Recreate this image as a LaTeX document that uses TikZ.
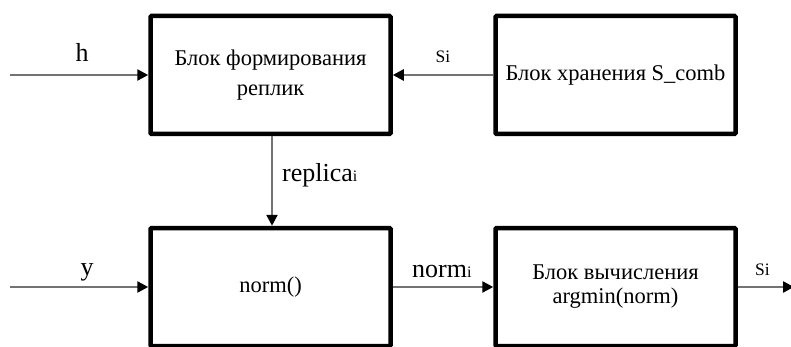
\documentclass[tikz,border=0pt]{standalone}
\usepackage{fontspec}
\setmainfont{Liberation Serif}
\usetikzlibrary{arrows.meta}
\begin{document}
\begin{tikzpicture}[x=1pt,y=-1pt,
  blk/.style={draw=black,line width=4.5pt,rounded corners=1pt,fill=white,
    minimum width=240pt,minimum height=118pt,inner sep=0pt,align=center,
    font=\fontsize{22.5}{30}\selectfont},
  conn/.style={draw=black!55,line width=2.4pt,
    -{Triangle[length=11pt,width=11pt,color=black]}},
  lbl/.style={font=\fontsize{26}{26}\selectfont,inner sep=0pt},
  sml/.style={font=\fontsize{17.5}{17.5}\selectfont,inner sep=0pt}]
\useasboundingbox[fill=white] (0,0) rectangle (791,347);
% blocks
\node[blk] (form) at (270.5,75) {Блок формирования\\реплик};
\node[blk] (store) at (615.5,75) {Блок хранения S\_comb};
\node[blk] (norm) at (270.5,287) {norm()};
\node[blk,font=\fontsize{22.5}{24}\selectfont] (argmin) at (615.5,287) {Блок вычисления\\argmin(norm)};
% free ends
\coordinate (hin) at (10,75);
\coordinate (yin) at (10,287);
\coordinate (sout) at (794,287);
% connectors
\draw[conn] (hin) -- (form.west);
\draw[conn] (store.west) -- (form.east);
\draw[conn] ([xshift=1.5pt]form.south) -- ([xshift=1.5pt]norm.north);
\draw[conn] (yin) -- (norm.west);
\draw[conn] (norm.east) -- (argmin.west);
\draw[conn] (argmin.east) -- (sout);
% labels
\node[lbl,anchor=base] (lh) at (82,62) {h};
\node[sml,anchor=base] (lsi1) at (443,63) {Si};
\node[lbl,anchor=base west] (lrep) at (282,182) {replica{\fontsize{16}{16}\selectfont i}};
\node[lbl,anchor=base] (ly) at (87,275) {y};
\node[lbl,anchor=base west] (lnorm) at (412,277) {norm{\fontsize{16}{16}\selectfont i}};
\node[sml,anchor=base west] (lsi2) at (755,275) {Si};
\end{tikzpicture}
\end{document}
